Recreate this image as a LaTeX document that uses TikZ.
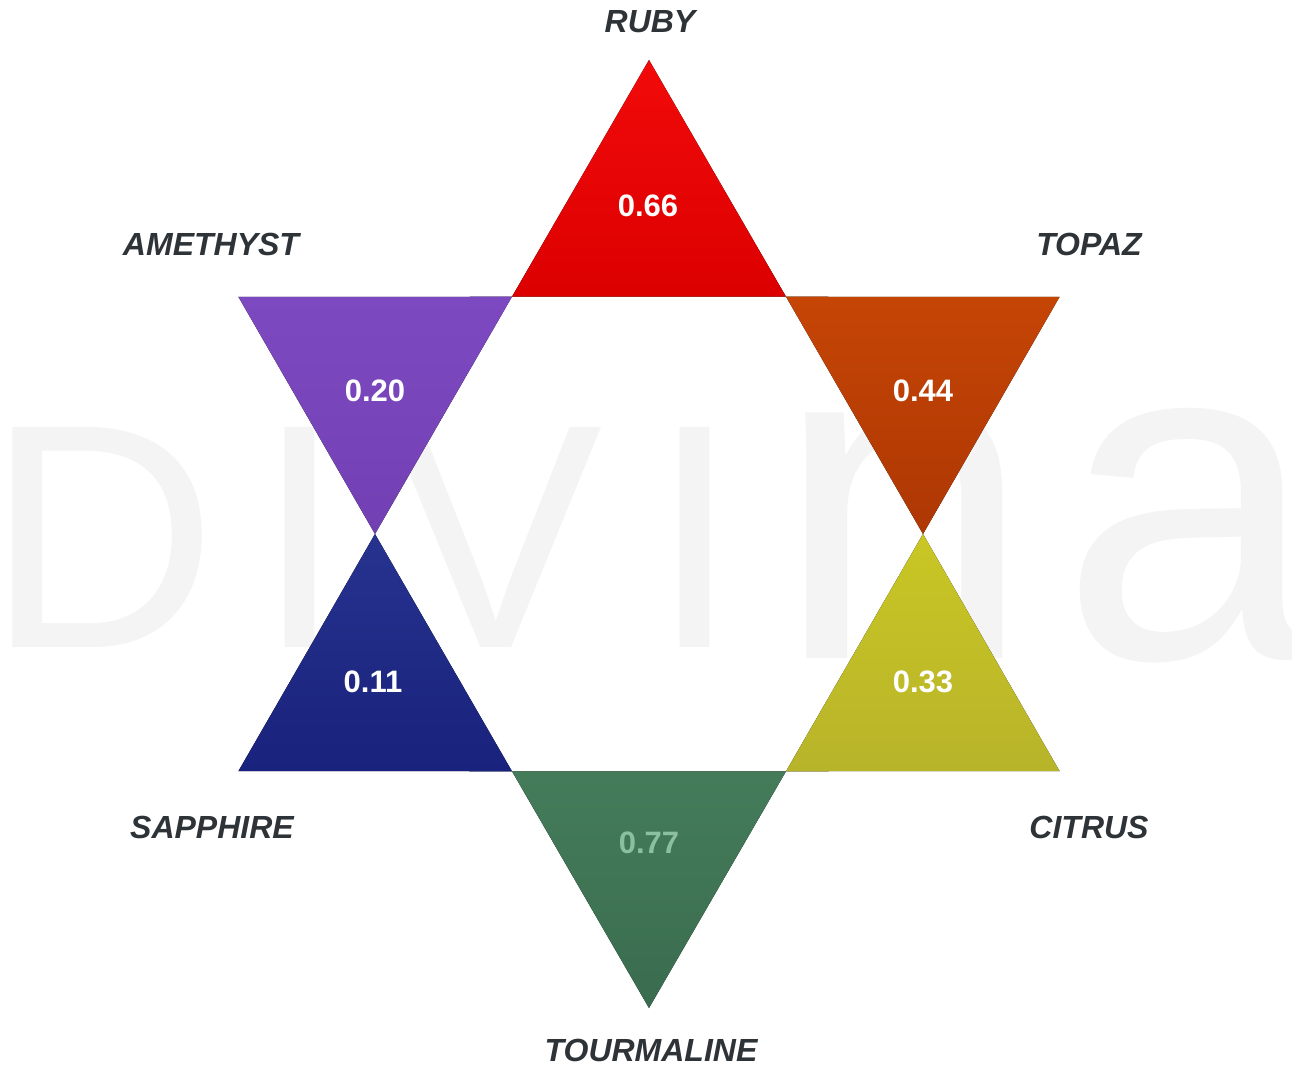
\documentclass[tikz,border=0pt]{standalone}
\usepackage{fontspec}
\setmainfont{Liberation Sans}
\usepackage{tikz}
\usetikzlibrary{positioning}
\usepackage{xcolor}
\definecolor{ghostgray}{HTML}{F4F4F4}
\definecolor{labelgray}{HTML}{2E3338}
\definecolor{rubytop}{HTML}{F20A0A}
\definecolor{rubybot}{HTML}{DC0000}
\definecolor{topaztop}{HTML}{C54505}
\definecolor{topazbot}{HTML}{AE3704}
\definecolor{citrustop}{HTML}{C9C624}
\definecolor{citrusbot}{HTML}{B8B42A}
\definecolor{tourmtop}{HTML}{447C5A}
\definecolor{tourmbot}{HTML}{3A6C4F}
\definecolor{sapphtop}{HTML}{26338F}
\definecolor{sapphbot}{HTML}{19227C}
\definecolor{amethtop}{HTML}{7D49C1}
\definecolor{amethbot}{HTML}{7240B3}
\definecolor{pale}{HTML}{8CBF9E}

\begin{document}
\begin{tikzpicture}[x=1pt, y=1pt]
    \tikzstyle{ghost} = [inner sep=0, anchor=base, text=ghostgray]
    \tikzstyle{gemname} = [inner sep=0, anchor=base, text=labelgray,
        font=\fontsize{32}{32}\selectfont\bfseries\itshape]
    \tikzstyle{gemvalue} = [inner sep=0, anchor=base, text=white,
        font=\fontsize{31}{31}\selectfont\bfseries]
    \useasboundingbox (-649,-531) rectangle (643,534);
    % watermark
    \node [ghost, font=\fontsize{320}{320}\selectfont] (wD) at (-547,-113) {D};
    \node [ghost, font=\fontsize{320}{320}\selectfont] (wI) at (-349,-113) {I};
    \node [ghost, font=\fontsize{320}{320}\selectfont] (wV) at (-153,-113) {V};
    \node [ghost, font=\fontsize{320}{320}\selectfont] (wJ) at (46,-113) {I};
    \node [ghost, font=\fontsize{465}{465}\selectfont] (wn) at (255,-124) {n};
    \node [ghost, font=\fontsize{465}{465}\selectfont] (wa) at (541,-124) {a};
    % star points
    \foreach \a [count=\i] in {90,30,-30,-90,-150,150}
        \coordinate (o\i) at (\a:474);
    \foreach \a [count=\i] in {60,0,-60,-120,180,120}
        \coordinate (h\i) at (\a:274);
    \fill [top color=rubytop, bottom color=rubybot] (o1) -- (h1) -- (h6) -- cycle;
    \fill [top color=topaztop, bottom color=topazbot] (o2) -- (h2) -- (h1) -- cycle;
    \fill [top color=citrustop, bottom color=citrusbot] (o3) -- (h3) -- (h2) -- cycle;
    \fill [top color=tourmtop, bottom color=tourmbot] (o4) -- (h4) -- (h3) -- cycle;
    \fill [top color=sapphtop, bottom color=sapphbot] (o5) -- (h5) -- (h4) -- cycle;
    \fill [top color=amethtop, bottom color=amethbot] (o6) -- (h6) -- (h5) -- cycle;
    % values
    \node [gemvalue] (v1) at (-1,317) {0.66};
    \node [gemvalue] (v2) at (274,132) {0.44};
    \node [gemvalue] (v3) at (274,-158) {0.33};
    \node [gemvalue, text=pale] (v4) at (0,-319) {0.77};
    \node [gemvalue] (v5) at (-276,-158) {0.11};
    \node [gemvalue] (v6) at (-274,132) {0.20};
    % names
    \node [gemname] (ruby) at (1,501) {RUBY};
    \node [gemname] (topaz) at (440,278) {TOPAZ};
    \node [gemname] (citrus) at (440,-304) {CITRUS};
    \node [gemname] (tourmaline) at (2,-527) {TOURMALINE};
    \node [gemname] (sapphire) at (-437,-304) {SAPPHIRE};
    \node [gemname] (amethyst) at (-438,278) {AMETHYST};
\end{tikzpicture}
\end{document}
